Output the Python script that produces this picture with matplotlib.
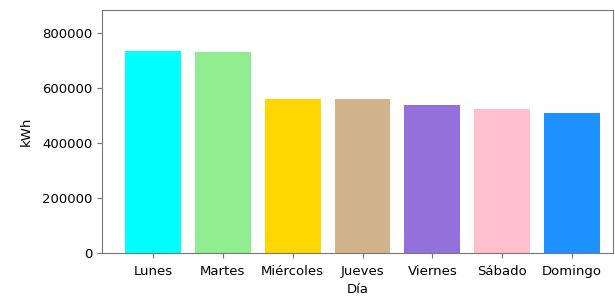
import matplotlib.pyplot as plt

dias = ['Lunes', 'Martes', 'Miércoles', 'Jueves', 'Viernes', 'Sábado', 'Domingo']
consumo_kwh = [735000, 729000, 560000, 558000, 538000, 523000, 507000]
colores = ['cyan', 'lightgreen', 'gold', 'tan', 'mediumpurple', 'pink', 'dodgerblue']

plt.rcParams['font.size'] = 9.5

fig = plt.figure(figsize=(6.15, 3), dpi=100)
ax = fig.add_axes([0.166, 0.157, 0.831, 0.81])
ax.bar(dias, consumo_kwh, color=colores, width=0.8)
ax.set_xlim(-0.73, 6.59)
ax.set_ylim(0, 883000)
ax.set_yticks([0, 200000, 400000, 600000, 800000])
ax.set_xlabel('Día', labelpad=4)
ax.set_ylabel('kWh', labelpad=7)
ax.tick_params(axis='x', pad=5)
for s in ax.spines.values():
    s.set_color('#777777')
ax.tick_params(color='#777777')

plt.savefig('out.png')
